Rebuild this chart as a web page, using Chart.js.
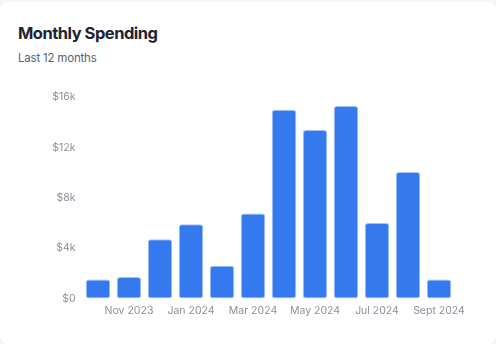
<!DOCTYPE html>
<html>
<head>
<meta charset="utf-8">
<script src="https://cdn.jsdelivr.net/npm/chart.js@4"></script>
<style>
  html, body { margin: 0; padding: 0; background: #f5f5f6; }
  .card {
    position: absolute; left: 0; top: 2px; width: 496px; height: 342px;
    background: #fff; border-radius: 8px;
    font-family: Inter, "Noto Sans", sans-serif;
  }
  .card h1 {
    position: absolute; left: 18px; top: 21px; margin: 0;
    font-size: 16.5px; font-weight: 700; color: #1e2532; letter-spacing: -0.5px;
  }
  .card p {
    position: absolute; left: 18px; top: 49px; margin: 0;
    font-size: 11.5px; color: #5b6270; letter-spacing: -0.2px;
  }
  .chart-box { position: absolute; left: 18px; top: 82px; width: 460px; height: 241px; }
</style>
</head>
<body>
<div class="card">
  <h1>Monthly Spending</h1>
  <p>Last 12 months</p>
  <div class="chart-box"><canvas id="spendChart"></canvas></div>
</div>
<script>
const months = ["Oct 2023", "Nov 2023", "Dec 2023", "Jan 2024", "Feb 2024", "Mar 2024",
                "Apr 2024", "May 2024", "Jun 2024", "Jul 2024", "Aug 2024", "Sept 2024"];
const spending = [1500, 1700, 4700, 5900, 2600, 6750, 15000, 13400, 15300, 6000, 10050, 1500];
const yTicks = [0, 4000, 8000, 12000, 16000];

const ctx = document.getElementById('spendChart').getContext('2d');
new Chart(ctx, {
    type: 'bar',
    data: {
        labels: months,
        datasets: [{
            data: spending,
            backgroundColor: '#3579ef',
            borderColor: 'rgba(150,185,248,0.9)',
            borderWidth: 1,
            borderSkipped: false,
            borderRadius: 3,
            barPercentage: 0.9,
            categoryPercentage: 0.88,
        }]
    },
    options: {
        responsive: true,
        maintainAspectRatio: false,
        animation: false,
        layout: { padding: { top: 8, right: 23.5, bottom: 2, left: 0 } },
        plugins: { legend: { display: false }, tooltip: { enabled: false } },
        scales: {
            x: {
                grid: { display: false, drawTicks: false },
                border: { display: false },
                ticks: {
                    autoSkip: false, maxRotation: 0, padding: 6,
                    color: '#8a909a',
                    font: { family: 'Inter', size: 10.5 },
                    callback: (v, i) => (i % 2 === 1 ? months[i] : '')
                }
            },
            y: {
                min: 0, max: 16000,
                afterFit: (scale) => { scale.width = 64.5; },
                afterBuildTicks: (scale) => { scale.ticks = yTicks.map(v => ({ value: v })); },
                grid: { display: false, drawTicks: false },
                border: { display: false },
                ticks: {
                    padding: 7,
                    color: '#8a909a',
                    font: { family: 'Inter', size: 10.5 },
                    callback: (v) => (v === 0 ? '$0' : '$' + v / 1000 + 'k')
                }
            }
        }
    }
});
</script>
</body>
</html>
